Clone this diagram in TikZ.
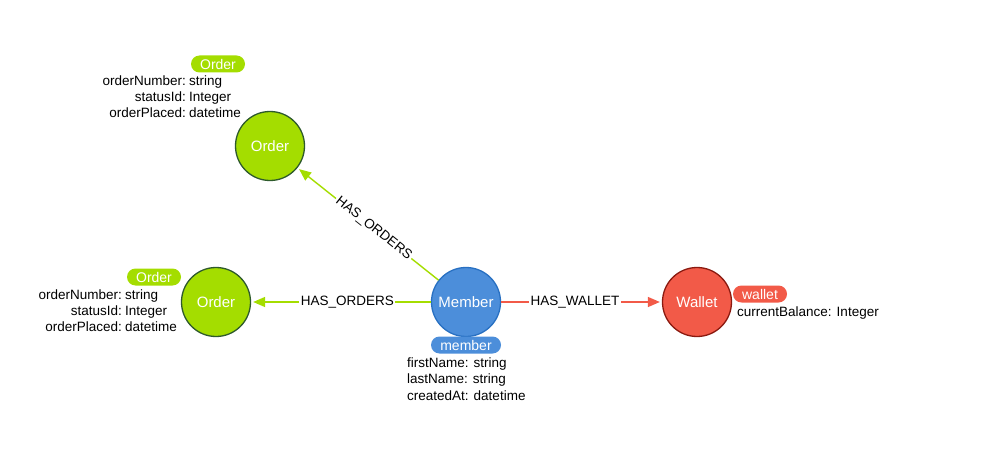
\documentclass[tikz,border=0pt]{standalone}
\usepackage{fontspec}
\setmainfont{Liberation Sans}
\usetikzlibrary{arrows.meta}
\definecolor{ogreen}{HTML}{A4DD00}
\definecolor{ogreenb}{HTML}{2E5A2C}
\definecolor{mblue}{HTML}{4C8EDA}
\definecolor{mblueb}{HTML}{2870C2}
\definecolor{wred}{HTML}{F25A48}
\definecolor{wredb}{HTML}{8B1A10}
\begin{document}
\begin{tikzpicture}[x=1pt,y=-1pt,
  ent/.style={circle,minimum size=69pt,inner sep=0pt,line width=1.3pt,text=white,font=\fontsize{15}{18}\selectfont},
  pill/.style={rounded corners=8.5pt,minimum height=17pt,inner sep=0pt,text=white,font=\fontsize{14}{16}\selectfont},
  prop/.style={inner sep=0pt,font=\fontsize{13.5}{16.3}\selectfont,text=black},
  rel/.style={line width=1.4pt,-{Triangle[length=12pt,width=10pt]},shorten >=2pt},
  rlab/.style={fill=white,inner sep=1.5pt,font=\fontsize{13.5}{16}\selectfont,text=black}]
\useasboundingbox (0,0) rectangle (998,465);

% entities
\node[ent,fill=ogreen,draw=ogreenb] (o1) at (270,146) {Order};
\node[ent,fill=ogreen,draw=ogreenb] (o2) at (216,302) {Order};
\node[ent,fill=mblue,draw=mblueb] (m) at (466,302) {Member};
\node[ent,fill=wred,draw=wredb] (w) at (697,302) {Wallet};

% relationships
\draw[rel,draw=ogreen,fill=ogreen] (m) -- node[rlab,sloped,pos=0.46] {HAS\_ORDERS} (o1);
\draw[rel,draw=ogreen,fill=ogreen] (m) -- node[rlab,pos=0.465] {HAS\_ORDERS} (o2);
\draw[rel,draw=wred,fill=wred] (m) -- node[rlab,pos=0.46] {HAS\_WALLET} (w);

% top order labels
\node[pill,fill=ogreen,minimum width=54pt] (p1) at (218,64) {Order};
\node[prop,anchor=base east] (k11) at (186,86) {orderNumber:};
\node[prop,anchor=base west] (v11) at (189,86) {string};
\node[prop,anchor=base east] (k12) at (186,102) {statusId:};
\node[prop,anchor=base west] (v12) at (189,102) {Integer};
\node[prop,anchor=base east] (k13) at (186,118) {orderPlaced:};
\node[prop,anchor=base west] (v13) at (189,118) {datetime};

% left order labels
\node[pill,fill=ogreen,minimum width=54pt] (p2) at (154,277) {Order};
\node[prop,anchor=base east] (k21) at (122,299) {orderNumber:};
\node[prop,anchor=base west] (v21) at (125,299) {string};
\node[prop,anchor=base east] (k22) at (122,315) {statusId:};
\node[prop,anchor=base west] (v22) at (125,315) {Integer};
\node[prop,anchor=base east] (k23) at (122,331) {orderPlaced:};
\node[prop,anchor=base west] (v23) at (125,331) {datetime};

% member labels
\node[pill,fill=mblue,minimum width=70pt] (p3) at (466,345) {member};
\node[prop,anchor=base west] (k31) at (407,367) {firstName: string};
\node[prop,anchor=base west] (k32) at (407,383) {lastName: string};
\node[prop,anchor=base west] (k33) at (407,400) {createdAt: datetime};

% wallet labels
\node[pill,fill=wred,minimum width=54pt] (p4) at (760,294) {wallet};
\node[prop,anchor=base west] (k41) at (737,316) {currentBalance: Integer};
\end{tikzpicture}
\end{document}
